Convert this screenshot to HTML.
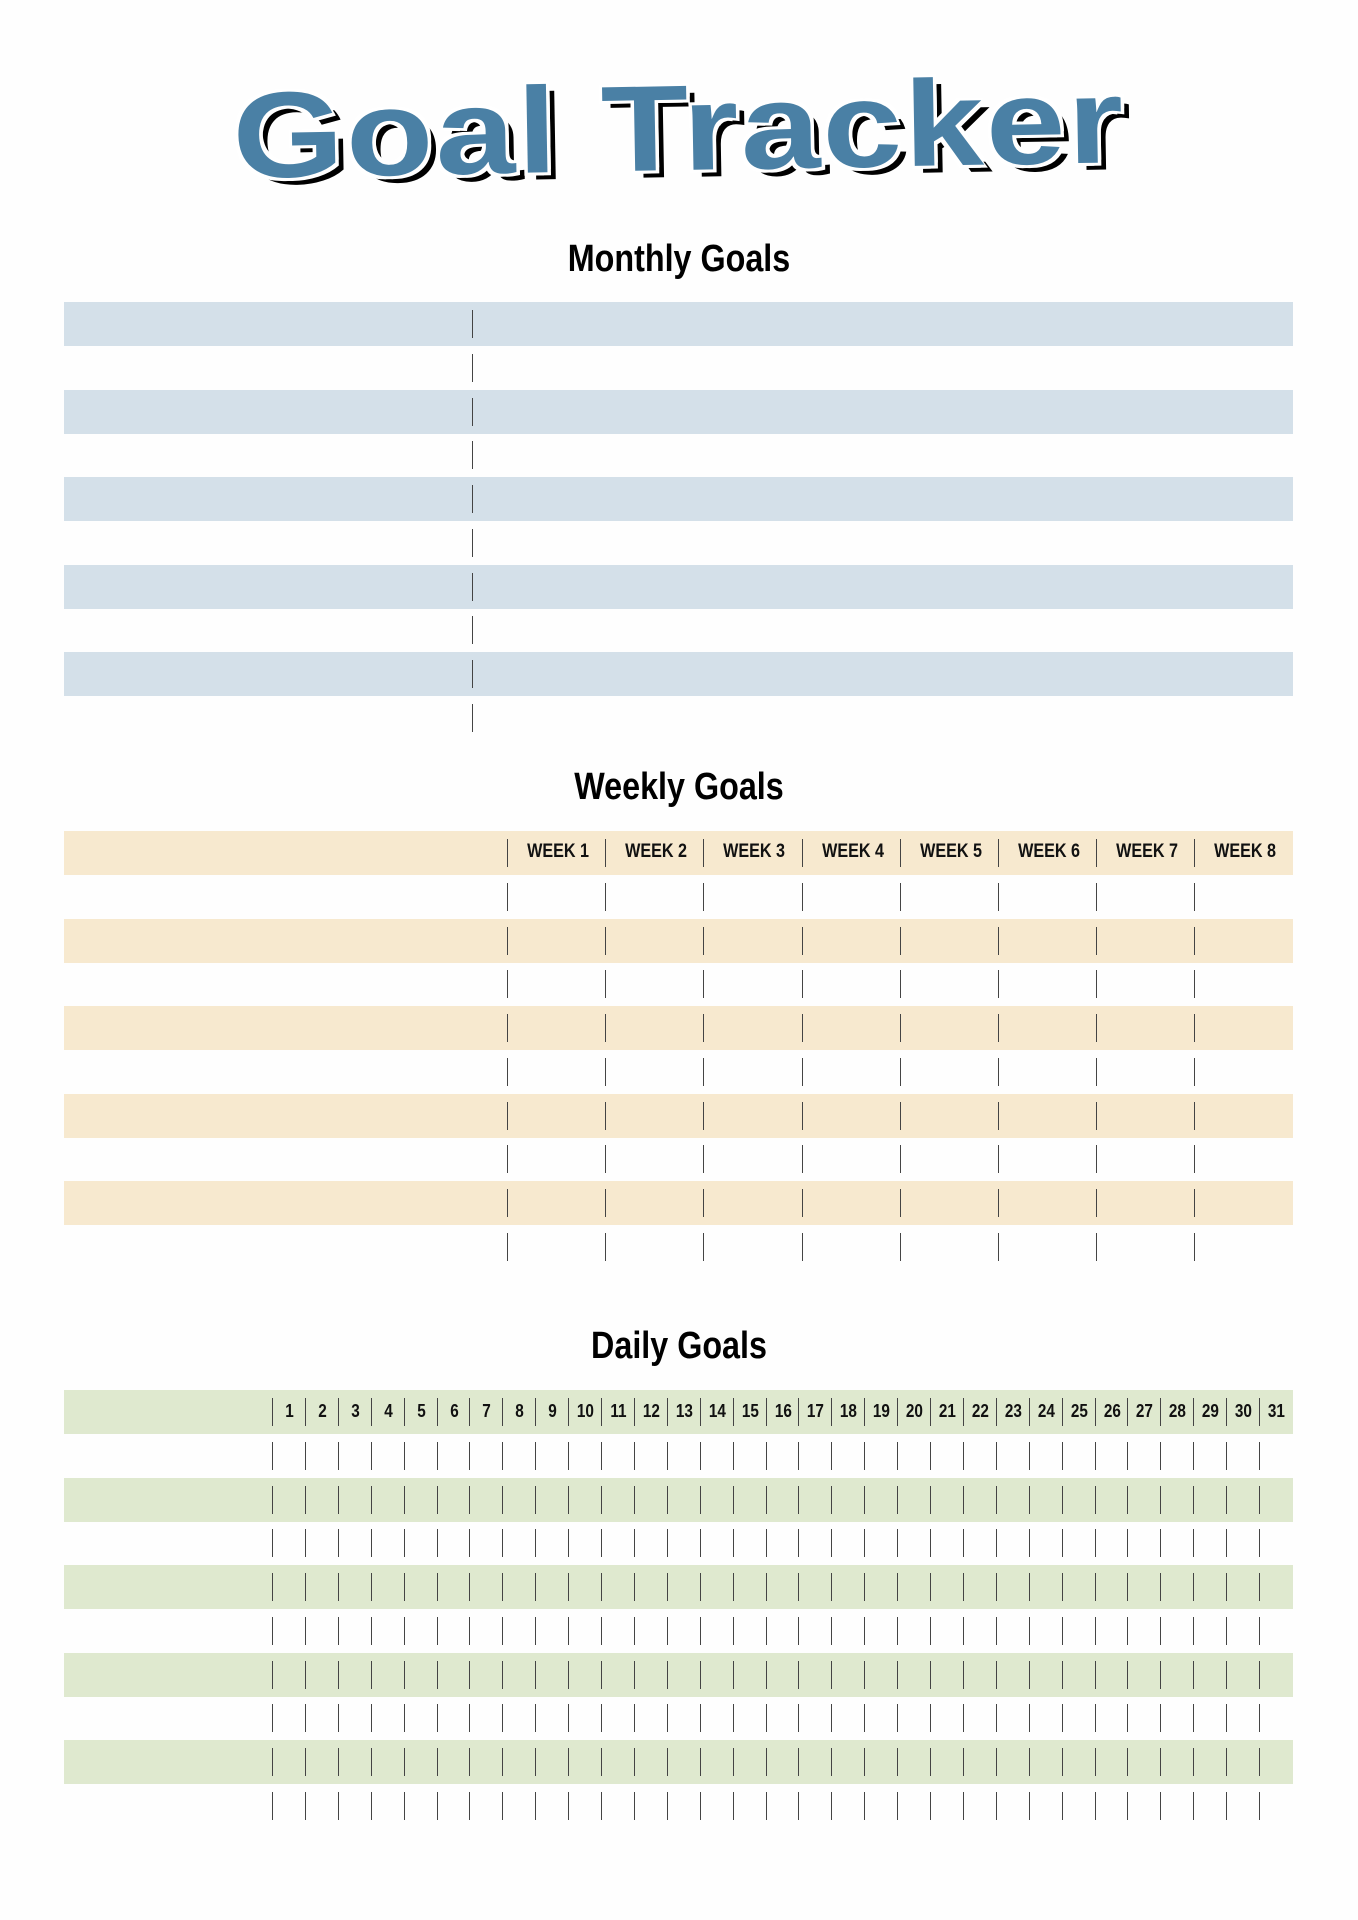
<!DOCTYPE html>
<html><head><meta charset="utf-8"><style>
body{margin:0;width:1358px;height:1920px;background:#fefefe;position:relative;overflow:hidden;font-family:"Liberation Sans",sans-serif;}
.abs{position:absolute}
.band{position:absolute;left:64px;width:1229px;height:44px}
.vl{position:absolute;width:1px;background:#444;height:28px}
.h2{position:absolute;left:0;width:1358px;text-align:center;font-weight:bold;font-size:38px;color:#000;transform:scaleX(0.85)}
.lbl{position:absolute;font-weight:bold;color:#111;text-align:center;transform:scaleX(0.85)}
</style></head><body>
<div class="abs" style="left:0;top:58px;width:1358px;text-align:center;font-weight:bold;font-size:122px;color:#4a80a5;letter-spacing:2px;text-shadow:-3px -3px 0 #fff,3px -3px 0 #fff,-3px 3px 0 #fff,3px 3px 0 #fff,7px 7px 0 #000;transform:rotate(-1deg) scaleX(1.17)">Goal Tracker</div>
<div class="h2" style="top:238px">Monthly Goals</div>
<div class="h2" style="top:766px">Weekly Goals</div>
<div class="h2" style="top:1325px">Daily Goals</div>
<div id="root"></div>
<script>
const monthlyRows = 10;
const weeks = ["WEEK 1","WEEK 2","WEEK 3","WEEK 4","WEEK 5","WEEK 6","WEEK 7","WEEK 8"];
const days = Array.from({length:31},(_, i)=>String(i+1));
const root = document.getElementById('root');
const P = 87.5;
function div(cls, style){const d=document.createElement('div');d.className=cls;d.style.cssText=style;root.appendChild(d);return d;}
for(let r=0;r<monthlyRows;r++){
  const top=Math.round(302+r*(P/2));
  if(r%2===0){const b=div('band',`top:${top}px;background:#d4e0e9`);
    
    }
  const v=div('vl',`left:472px;top:${top+8}px`);
  
  
}
const wx0=507, wstep=98.2;
for(let r=0;r<10;r++){
  const top=Math.round(831+r*(P/2));
  if(r%2===0){const b=div('band',`top:${top}px;background:#f7e9cf`);
    
    }
  weeks.forEach((w,i)=>{
    const v=div('vl',`left:${Math.round(wx0+i*wstep)}px;top:${top+8}px`);
    
    
    if(r===0){const t=div('lbl',`left:${Math.round(wx0+i*wstep)+2}px;top:${top+10}px;width:${wstep}px;font-size:19px`);
      t.textContent=w;
      
      }
  });
}
const dx0=272, dstep=32.9;
for(let r=0;r<10;r++){
  const top=Math.round(1390+r*(P/2));
  if(r%2===0){const b=div('band',`top:${top}px;background:#dfe9cf`);
    
    }
  days.forEach((d,i)=>{
    const v=div('vl',`left:${Math.round(dx0+i*dstep)}px;top:${top+8}px`);
    
    
    if(r===0){const t=div('lbl',`left:${Math.round(dx0+i*dstep)+1}px;top:${top+11}px;width:${dstep}px;font-size:18px`);
      t.textContent=d;
      
      }
  });
}
</script>
</body></html>
